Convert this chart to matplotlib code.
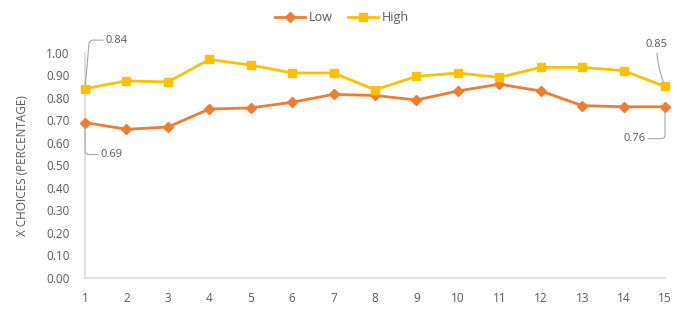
import numpy as np
import matplotlib.pyplot as plt

# data
rounds = list(range(1, 16))
low = [0.69, 0.66, 0.67, 0.75, 0.755, 0.78, 0.815, 0.81, 0.79, 0.83, 0.86, 0.83, 0.765, 0.76, 0.76]
high = [0.84, 0.875, 0.87, 0.97, 0.945, 0.91, 0.91, 0.835, 0.895, 0.91, 0.89, 0.935, 0.935, 0.92, 0.85]
yticks = np.arange(0, 1.01, 0.1)

low_col = "#ED7D31"
high_col = "#FFC000"
txt_col = "#595959"
grid_col = "#D9D9D9"

plt.rcParams['font.family'] = ['Open Sans', 'DejaVu Sans']

fig = plt.figure(figsize=(6.77, 3.09), dpi=100)
ax = fig.add_axes([0.1256, 0.1003, 0.8567, 0.7292])

ax.plot(rounds, low, color=low_col, lw=2, marker='D', ms=5, label='Low', clip_on=False, zorder=3)
ax.plot(rounds, high, color=high_col, lw=2, marker='s', ms=6, label='High', clip_on=False, zorder=3)

ax.set_xlim(1, 15)
ax.set_ylim(0, 1.0)
ax.set_xticks(rounds)
ax.set_yticks(yticks)
ax.set_yticklabels([f"{v:.2f}" for v in yticks])
ax.tick_params(length=0, labelsize=8.5, colors=txt_col, pad=11)
ax.tick_params(axis='x', pad=10)

for s in ['top', 'right']:
    ax.spines[s].set_visible(False)
for s in ['left', 'bottom']:
    ax.spines[s].set_color(grid_col)
    ax.spines[s].set_linewidth(1.2)

ax.set_ylabel("X CHOICES (PERCENTAGE)", fontsize=8.5, color=txt_col)
ax.yaxis.set_label_coords(-0.097, 0.5)

# data labels with leader lines
lead = dict(arrowstyle='-', color='#A6A6A6', lw=0.8, shrinkA=0, shrinkB=3)
ax.annotate(f"{high[0]:.2f}", xy=(1, high[0]), xytext=(15, 35), textcoords='offset points',
            fontsize=8, color=txt_col, va='center', ha='left',
            arrowprops=dict(lead, connectionstyle='angle,angleA=0,angleB=85,rad=4'))
ax.annotate(f"{low[0]:.2f}", xy=(1, low[0]), xytext=(11, -23), textcoords='offset points',
            fontsize=8, color=txt_col, va='center', ha='left',
            arrowprops=dict(lead, connectionstyle='angle,angleA=0,angleB=90,rad=4'))
ax.annotate(f"{high[-1]:.2f}", xy=(15, high[-1]), xytext=(-6, 26), textcoords='offset points',
            fontsize=8, color=txt_col, va='bottom', ha='center',
            arrowprops=dict(lead, connectionstyle='arc3,rad=0.1'))
ax.annotate(f"{low[-1]:.2f}", xy=(15, low[-1]), xytext=(-14, -23), textcoords='offset points',
            fontsize=8, color=txt_col, va='center', ha='right',
            arrowprops=dict(lead, connectionstyle='angle,angleA=0,angleB=-90,rad=4'))

fig.legend(loc='upper center', bbox_to_anchor=(0.505, 1.0), ncol=2, frameon=False,
           fontsize=9, labelcolor=txt_col, handlelength=2.4, columnspacing=1.2, handletextpad=0.3)

fig.savefig("out.png", dpi=100)
